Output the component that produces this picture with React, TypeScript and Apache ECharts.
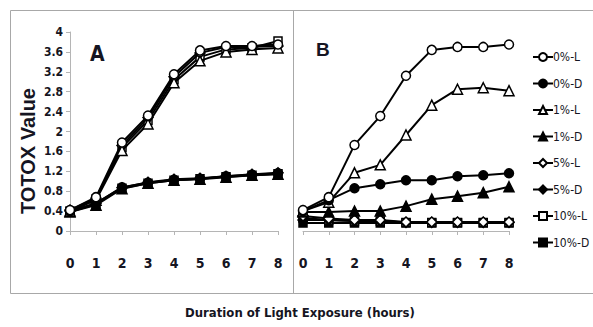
import React, { useEffect, useRef } from "react";
import * as echarts from "echarts";

const hours = [0, 1, 2, 3, 4, 5, 6, 7, 8];
const seriesNames = ["0%-L", "0%-D", "1%-L", "1%-D", "5%-L", "5%-D", "10%-L", "10%-D"];

const panelA: number[][] = [
  [0.42, 0.68, 1.78, 2.32, 3.15, 3.63, 3.72, 3.72, 3.75],
  [0.4, 0.55, 0.88, 0.97, 1.03, 1.05, 1.1, 1.13, 1.16],
  [0.4, 0.62, 1.62, 2.15, 2.98, 3.42, 3.6, 3.65, 3.68],
  [0.38, 0.52, 0.85, 0.96, 1.02, 1.04, 1.08, 1.12, 1.14],
  [0.42, 0.66, 1.72, 2.28, 3.1, 3.58, 3.7, 3.7, 3.72],
  [0.4, 0.56, 0.87, 0.98, 1.04, 1.06, 1.1, 1.14, 1.17],
  [0.4, 0.64, 1.68, 2.22, 3.04, 3.5, 3.65, 3.68, 3.82],
  [0.38, 0.54, 0.86, 0.96, 1.02, 1.05, 1.09, 1.12, 1.15],
];

const panelB: number[][] = [
  [0.42, 0.68, 1.73, 2.31, 3.12, 3.64, 3.7, 3.7, 3.75],
  [0.4, 0.62, 0.86, 0.94, 1.02, 1.02, 1.1, 1.12, 1.16],
  [0.4, 0.58, 1.17, 1.33, 1.93, 2.53, 2.85, 2.88, 2.82],
  [0.38, 0.38, 0.4, 0.4, 0.5, 0.64, 0.7, 0.77, 0.89],
  [0.3, 0.25, 0.22, 0.22, 0.18, 0.18, 0.18, 0.18, 0.18],
  [0.22, 0.22, 0.2, 0.2, 0.17, 0.17, 0.17, 0.17, 0.17],
  [0.26, 0.22, 0.2, 0.2, 0.17, 0.17, 0.17, 0.17, 0.17],
  [0.16, 0.16, 0.16, 0.16, 0.16, 0.16, 0.16, 0.16, 0.16],
];

const symbols = ["circle", "circle", "triangle", "triangle", "diamond", "diamond", "rect", "rect"];
const symbolSizes = [9, 9, 10, 10, 10, 10, 8, 8];
const hollow = [true, false, true, false, true, false, true, false];

const NARROW = '"DejaVu Sans Condensed", "Liberation Sans Narrow", sans-serif';
const TXT = "#151522";

export default function App() {
  const ref = useRef<HTMLDivElement>(null);
  useEffect(() => {
    if (!ref.current) return;
    const chart = echarts.init(ref.current, undefined, { renderer: "svg" });
    const mk = (data: number[][], idx: number) =>
      data.map((vals, i) => ({
        name: seriesNames[i],
        type: "line",
        xAxisIndex: idx,
        yAxisIndex: idx,
        data: hours.map((h, j) => [h, vals[j]]),
        symbol: symbols[i],
        symbolSize: symbolSizes[i],
        showAllSymbol: true,
        lineStyle: { color: "#000", width: 2 },
        itemStyle: {
          color: hollow[i] ? "#fff" : "#000",
          borderColor: "#000",
          borderWidth: 1.5,
        },
        z: 10 - i,
      }));
    const xAxisBase = (gi: number) => ({
      type: "value",
      gridIndex: gi,
      min: 0,
      max: 8,
      interval: 1,
      axisLine: { show: true, lineStyle: { color: "#b5b5b5", width: 1 } },
      axisTick: { show: true, length: 4, lineStyle: { color: "#b5b5b5" } },
      splitLine: { show: false },
      axisLabel: {
        color: TXT,
        fontFamily: NARROW,
        fontWeight: "bold",
        fontSize: 14,
        margin: 25,
      },
    });
    chart.setOption({
      animation: false,
      backgroundColor: "#fff",
      grid: [
        { left: 70, top: 32, width: 208, height: 199 },
        { left: 303, top: 32, width: 206, height: 199 },
      ],
      xAxis: [xAxisBase(0), xAxisBase(1)],
      yAxis: [
        {
          type: "value",
          gridIndex: 0,
          min: 0,
          max: 4,
          interval: 0.4,
          axisLine: { show: true, lineStyle: { color: "#b5b5b5", width: 1 } },
          axisTick: { show: true, length: 4, lineStyle: { color: "#b5b5b5" } },
          splitLine: { show: false },
          axisLabel: {
            color: TXT,
            fontFamily: NARROW,
            fontWeight: "bold",
            fontSize: 12,
            margin: 7,
            formatter: (v: number) => String(+v.toFixed(1)),
          },
        },
        {
          type: "value",
          gridIndex: 1,
          min: 0,
          max: 4,
          interval: 0.4,
          axisLine: { show: false },
          axisTick: { show: false },
          splitLine: { show: false },
          axisLabel: { show: false },
        },
      ],
      legend: {
        orient: "vertical",
        left: 527,
        top: 46,
        itemWidth: 20,
        itemHeight: 10,
        itemGap: 14.5,
        data: seriesNames,
        textStyle: { color: TXT, fontFamily: NARROW, fontSize: 12, padding: [0, 0, 0, -5] },
      },
      graphic: [
        {
          type: "rect",
          shape: { x: 10.5, y: 10.5, width: 620, height: 283 },
          style: { fill: "none", stroke: "#a8a8a8", lineWidth: 1 },
          silent: true,
        },
        {
          type: "line",
          shape: { x1: 293.5, y1: 10, x2: 293.5, y2: 294 },
          style: { stroke: "#a8a8a8", lineWidth: 1 },
          silent: true,
        },
        {
          type: "text",
          x: 28,
          y: 151,
          rotation: Math.PI / 2,
          style: {
            text: "TOTOX Value",
            fill: TXT,
            font: 'bold 20px "Liberation Sans", Arial, sans-serif',
            align: "center",
            verticalAlign: "middle",
          },
        },
        {
          type: "text",
          left: 90,
          top: 43,
          style: { text: "A", fill: TXT, font: `bold 21px ${NARROW}` },
        },
        {
          type: "text",
          left: 316,
          top: 40,
          style: { text: "B", fill: TXT, font: `bold 19px "Liberation Sans", Arial, sans-serif` },
        },
        {
          type: "text",
          x: 300,
          y: 312,
          style: {
            text: "Duration of Light Exposure (hours)",
            fill: TXT,
            font: `bold 13px ${NARROW}`,
            align: "center",
            verticalAlign: "middle",
          },
        },
      ],
      series: [...mk(panelA, 0), ...mk(panelB, 1)],
    });
    return () => chart.dispose();
  }, []);
  return <div ref={ref} style={{ width: 593, height: 327, position: "absolute", left: 0, top: 0 }} />;
}
